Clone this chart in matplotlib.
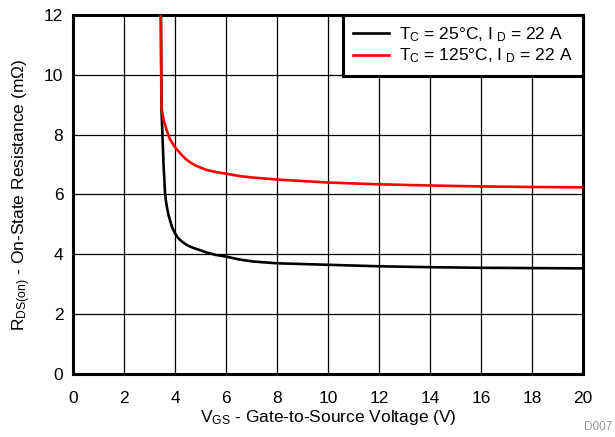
import matplotlib.pyplot as plt

plt.rcParams['font.family'] = ['Liberation Sans', 'DejaVu Sans']
plt.rcParams['mathtext.default'] = 'regular'

# Tc = 25 C, Id = 22 A
vgs_25 = [3.45, 3.47, 3.52, 3.55, 3.61, 3.65, 3.70, 3.75, 3.80, 3.85, 3.90, 4.0, 4.1,
          4.2, 4.3, 4.46, 4.7, 4.98, 5.24, 5.6, 6.03, 6.5, 7.06, 8.0, 10, 12, 14, 16,
          18, 20]
rds_25 = [12.0, 8.83, 7.71, 7.0, 6.04, 5.75, 5.5, 5.3, 5.15, 5.0, 4.88, 4.7, 4.57,
          4.48, 4.41, 4.31, 4.22, 4.14, 4.06, 3.98, 3.92, 3.83, 3.76, 3.70, 3.65, 3.60,
          3.57, 3.55, 3.54, 3.53]

# Tc = 125 C, Id = 22 A
vgs_125 = [3.44, 3.47, 3.55, 3.67, 3.80, 4.0, 4.2, 4.4, 4.6, 4.8, 5.0, 5.24, 5.6,
           6.03, 6.5, 7.0, 8.0, 10, 12, 14, 16, 18, 20]
rds_125 = [12.0, 8.9, 8.5, 8.15, 7.85, 7.58, 7.38, 7.2, 7.07, 6.97, 6.9, 6.82, 6.75,
           6.69, 6.62, 6.57, 6.5, 6.4, 6.34, 6.30, 6.27, 6.25, 6.24]

xticks = [0, 2, 4, 6, 8, 10, 12, 14, 16, 18, 20]
yticks = [0, 2, 4, 6, 8, 10, 12]

fs = 12.5

fig = plt.figure(figsize=(6.15, 4.37), dpi=100)
ax = fig.add_axes([0.1187, 0.1442, 0.8293, 0.8215])

ax.plot(vgs_25, rds_25, color='black', lw=1.9, label=r'T$_C$ = 25°C, I$_{\ D}$ = 22 A', zorder=3)
ax.plot(vgs_125, rds_125, color='red', lw=1.9, label=r'T$_C$ = 125°C, I$_{\ D}$ = 22 A', zorder=3)

ax.set_xlim(0, 20)
ax.set_ylim(0, 12)
ax.set_xticks(xticks)
ax.set_yticks(yticks)
ax.tick_params(length=0, labelsize=fs)
ax.tick_params(axis='x', pad=12)
ax.tick_params(axis='y', pad=7)
ax.grid(True, color='black', lw=0.9)
for s in ax.spines.values():
    s.set_linewidth(2.2)

ax.set_xlabel(r'V$_{GS}$ - Gate-to-Source Voltage (V)', fontsize=fs, labelpad=2)
ax.set_ylabel(r'R$_{DS(on)}$ - On-State Resistance (m$\Omega$)', fontsize=fs, labelpad=8)

leg = ax.legend(loc='upper right', borderaxespad=0, fancybox=False, framealpha=1,
                edgecolor='black', fontsize=fs, handlelength=2.1, labelspacing=0.15,
                borderpad=0.6, handletextpad=0.55)
leg.get_frame().set_linewidth(2.2)

fig.text(0.995, 0.01, 'D007', color='#999999', fontsize=8.5, ha='right', va='bottom')

fig.savefig('out.png', dpi=100)
